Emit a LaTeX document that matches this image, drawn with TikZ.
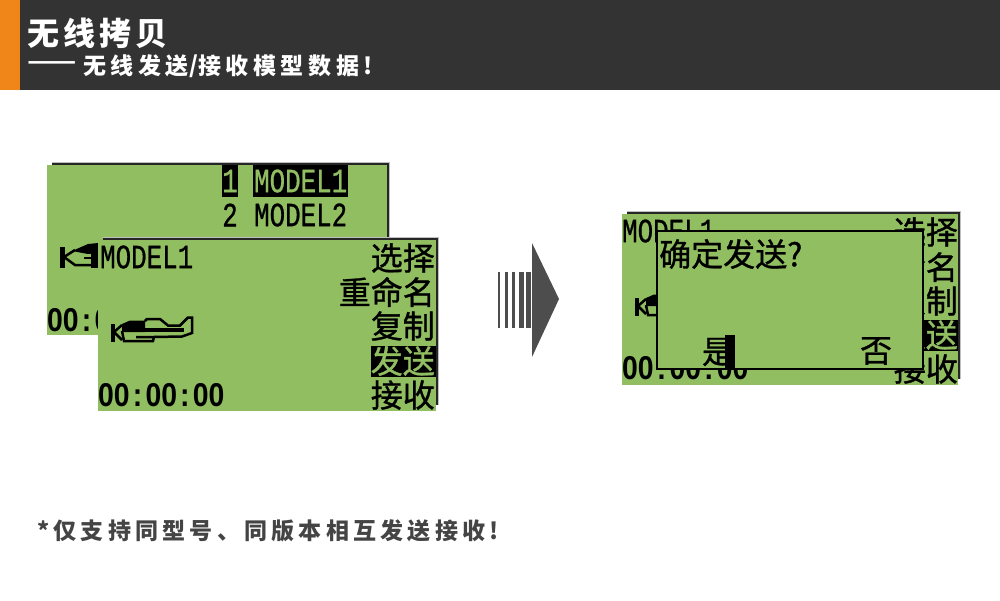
\documentclass[tikz,border=0pt]{standalone}
\usepackage{fontspec}
\newfontfamily\cjk[FakeBold=1]{Noto Sans CJK SC}
\newfontfamily\cjktitle[LetterSpace=12.5]{Noto Sans CJK SC}
\newfontfamily\cjkwide[LetterSpace=20]{Noto Sans CJK SC}
\newfontfamily\cjknote[LetterSpace=18.5]{Noto Sans CJK SC}
\newfontfamily\lcdfont[FakeBold=0.8]{Liberation Mono}
\newfontfamily\digitfont{Liberation Sans}
\definecolor{hdrgray}{HTML}{333333}
\definecolor{hdrorange}{HTML}{F0861A}
\definecolor{lcdgreen}{HTML}{92BE62}
\definecolor{arrowgray}{HTML}{4D4D4D}
\definecolor{notegray}{HTML}{444444}
\def\clockgap{\makebox[18.35pt]{:}}
\tikzset{
	screen/.style={fill=lcdgreen,draw=none},
	rim/.style={line width=2pt,draw=black!85,line cap=butt},
	rimsoft/.style={line width=4pt,draw=black!25,line cap=butt},
	pix/.style={line width=2.5pt,draw=black},
	title/.style={anchor=west,inner sep=0pt,text=white,font=\cjktitle\bfseries\fontsize{32}{36}\selectfont},
	subtitle/.style={anchor=west,inner sep=0pt,text=white,font=\cjkwide\bfseries\fontsize{23}{26}\selectfont},
	note/.style={anchor=west,inner sep=0pt,text=notegray,font=\cjknote\bfseries\fontsize{23}{26}\selectfont},
	modelname/.style={anchor=west,inner sep=0pt,xscale=.76,font=\lcdfont\fontsize{34}{36}\selectfont},
	timer/.style={anchor=west,inner sep=0pt,xscale=.86,font=\digitfont\bfseries\fontsize{33}{36}\selectfont},
	menu/.style={anchor=east,inner sep=0pt,font=\cjk\fontsize{32}{34}\selectfont},
	dialogtxt/.style={inner sep=0pt,font=\cjk\fontsize{32}{34}\selectfont},
}
% local coordinates: top left corner of a screen
\def\drawplane{
	\fill (13,84) rectangle (17,102);
	\draw[pix] (16,92) -- (24,85);
	\draw[pix] (16,92) -- (24,100);
	\fill (24,84) -- (32,80.5) -- (47,80.5) -- (47,92) -- (24,92) -- cycle;
	\fill (47,87.5) rectangle (86,92);
	\draw[pix] (47,81) -- (49,79) -- (62,79) -- (70,85.5) -- (82,85.5) -- (90,77.5) -- (94,77.5) -- (94,93) -- (84,96.5) -- (56,97);
	\draw[pix] (24,91) -- (26,101) -- (55,101) -- (56,97) -- (38,97);
}
\def\drawscreen#1{
	\draw[rimsoft] (5,-1) -- (#1+1,-1) -- (#1+1,165);
	\draw[rim] (5,-1) -- (#1+1,-1) -- (#1+1,165);
	\fill[screen] (0,0) rectangle (#1,171);
	\drawplane
}
\begin{document}
\begin{tikzpicture}[x=1pt,y=-1pt]
\useasboundingbox (0,0) rectangle (1000,600);
 \fill[hdrgray] (0,0) rectangle (1000,90);
 \fill[hdrorange] (0,0) rectangle (20,90);
\node (head) at (27,33) [title] {无线拷贝};
\node (subdash) at (27,66) [subtitle,xscale=1.25] {——};
\node (subwire) at (83,66) [subtitle] {无线发送};
\node (subslash) at (189,66) [subtitle] {/};
\node (subdata) at (198,66) [subtitle] {接收模型数据};
\node (subbang) at (363,66) [subtitle] {!};

% back screen
\draw[rimsoft] (52,164) -- (388,164) -- (388,240);
\draw[rim] (52,164) -- (388,164) -- (388,240);
\fill[screen] (47,165) rectangle (387,335);
\fill (222,165) rectangle (238,197);
\fill (253,165) rectangle (348,197);
\node (num1) at (230,181) [modelname,anchor=center,text=lcdgreen] {1};
\node (name1) at (254,181) [modelname,text=lcdgreen] {MODEL1};
\node (num2) at (230,215) [modelname,anchor=center] {2};
\node (name2) at (254,215) [modelname] {MODEL2};
\node (timeback) at (47,320) [timer] {00\clockgap00};
\fill (60,247) rectangle (65,268);
\draw[pix] (64,257) -- (75,250);
\draw[pix] (64,257) -- (75,265) -- (98,265);
\draw[pix] (84,258) -- (98,258);
\fill (72,251) -- (88,244) -- (98,243) -- (98,253) -- (88,254) -- cycle;
\fill (91,252) rectangle (98,268);

% front screen
\begin{scope}[shift={(98,240)}]
 \drawscreen{338}
 \node (model) at (2,17) [modelname] {MODEL1};
 \node (timer) at (0,155) [timer] {00\clockgap00\clockgap00};
 \fill (273,106) rectangle (338,137);
 \node (sel) at (337,18) [menu] {选择};
 \node (ren) at (337,52) [menu] {重命名};
 \node (cpy) at (337,86) [menu] {复制};
 \node (snd) at (337,121) [menu,text=lcdgreen] {发送};
 \node (rcv) at (337,155) [menu] {接收};
\end{scope}

% arrow
\foreach \a/\b in {497.7/500,504.7/507.7,511.7/515.3,518.7/523.7,525.7/531}
 \fill[arrowgray] (\a,272) rectangle (\b,328);
\fill[arrowgray] (532,243) -- (559,299) -- (532,357) -- cycle;

% right screen
\begin{scope}[shift={(622,214)}]
 \drawscreen{336}
 \node (modelr) at (0,17) [modelname] {MODEL1};
 \node (timerr) at (0,154) [timer] {00\clockgap00\clockgap00};
 \fill (273,106) rectangle (336,137);
 \node (selr) at (336,18) [menu] {选择};
 \node (renr) at (336,53) [menu] {重命名};
 \node (cpyr) at (336,87) [menu] {复制};
 \node (sndr) at (336,121) [menu,text=lcdgreen] {发送};
 \node (rcvr) at (336,155) [menu] {接收};
\end{scope}
\draw[screen,draw=black,line width=2.5pt] (657,231) rectangle (923,369);
\node (ask) at (659,254) [dialogtxt,anchor=west] {确定发送?};
\fill (725,335) rectangle (735,368);
\node (yes) at (718,352) [dialogtxt] {是};
\node (no) at (876,351) [dialogtxt] {否};

\node (foot) at (37,531) [note] {*仅支持同型号、同版本相互发送接收!};
\end{tikzpicture}
\end{document}
